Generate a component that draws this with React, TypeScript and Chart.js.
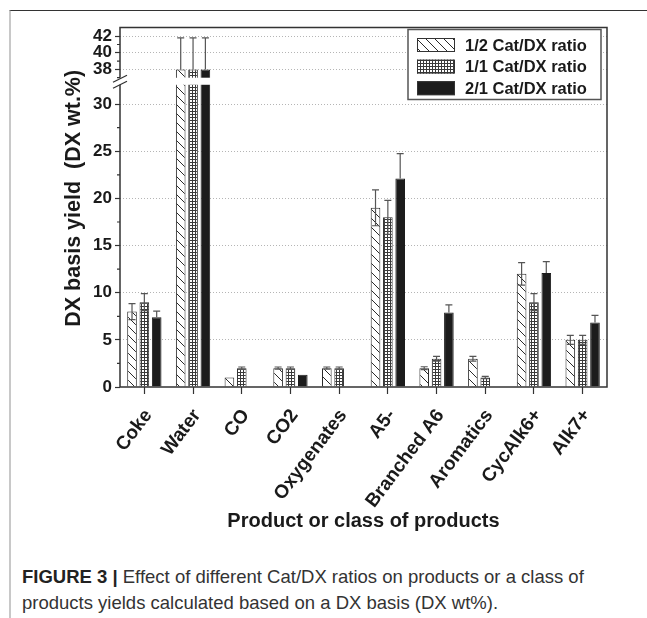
import React, { useEffect, useRef } from "react";
import { Chart, registerables } from "chart.js";

Chart.register(...registerables);

const categories = ["Coke", "Water", "CO", "CO2", "Oxygenates", "A5-", "Branched A6", "Aromatics", "CycAlk6+", "Alk7+"];
const seriesNames = ["1/2 Cat/DX ratio", "1/1 Cat/DX ratio", "2/1 Cat/DX ratio"];
const halfValues = [8.0, 38, 1.0, 2.0, 2.0, 19.0, 2.0, 3.0, 12.0, 5.0];
const halfErrors = [0.85, 3.8, 0, 0.12, 0.12, 1.9, 0.15, 0.25, 1.2, 0.47];
const oneValues = [9.0, 38, 2.0, 2.0, 2.0, 18.0, 3.0, 1.0, 9.0, 5.0];
const oneErrors = [0.9, 3.8, 0.12, 0.12, 0.12, 1.8, 0.25, 0.12, 0.9, 0.47];
const twoValues = [7.4, 38, 0, 1.3, 0, 22.1, 7.9, 0, 12.1, 6.85];
const twoErrors = [0.65, 3.8, 0, 0, 0, 2.65, 0.8, 0, 1.2, 0.75];
const lowerTicks = [0, 5, 10, 15, 20, 25, 30];
const upperTicks = [38, 40, 42];
const lowerMinorTicks = [2.5, 7.5, 12.5, 17.5, 22.5, 27.5];
const upperMinorTicks = [37, 39, 41];

// axis break: lower segment 0..32, upper segment 37..43
const BREAK_LOW = 32;
const BREAK_HIGH = 37;
const UPPER_START = 32.8;
const UPPER_SCALE = 0.88;
const toDisplay = (v: number) => (v <= BREAK_LOW ? v : UPPER_START + (Math.max(v, BREAK_HIGH) - BREAK_HIGH) * UPPER_SCALE);
const Y_MAX = toDisplay(43.05);

const yTickValues = [...lowerTicks, ...upperTicks].map(toDisplay);
const yTickLabels = [...lowerTicks, ...upperTicks].map(String);
const yMinorValues = [...lowerMinorTicks, ...upperMinorTicks].map(toDisplay);

const FONT = "'Liberation Sans', Arial, Helvetica, sans-serif";

function makeHatch(): CanvasPattern | string {
  const c = document.createElement("canvas");
  const s = 9;
  c.width = s;
  c.height = s;
  const g = c.getContext("2d")!;
  g.fillStyle = "#ffffff";
  g.fillRect(0, 0, s, s);
  g.strokeStyle = "#2a2a2a";
  g.lineWidth = 1;
  g.beginPath();
  g.moveTo(-1, -1); g.lineTo(s + 1, s + 1);
  g.moveTo(-1, s - 1); g.lineTo(1, s + 1);
  g.moveTo(s - 1, -1); g.lineTo(s + 1, 1);
  g.stroke();
  return g.createPattern(c, "repeat") || "#fff";
}

function makeGrid(): CanvasPattern | string {
  const c = document.createElement("canvas");
  const s = 3;
  c.width = s;
  c.height = s;
  const g = c.getContext("2d")!;
  g.fillStyle = "#ffffff";
  g.fillRect(0, 0, s, s);
  g.fillStyle = "#3a3a3a";
  g.fillRect(0, 0, s, 1);
  g.fillRect(0, 0, 1, s);
  return g.createPattern(c, "repeat") || "#fff";
}

const rawValues = [halfValues, oneValues, twoValues];
const rawErrors = [halfErrors, oneErrors, twoErrors];

const breakPlugin = {
  id: "breakAndExtras",
  afterDatasetsDraw(chart: any) {
    const { ctx, chartArea } = chart;
    const y = chart.scales.y;
    const { left, right, top, bottom } = chartArea;
    const yBreakTop = y.getPixelForValue(UPPER_START);
    const yBreakBot = y.getPixelForValue(BREAK_LOW + 0.05);
    ctx.save();
    // gap of the break
    ctx.fillStyle = "#ffffff";
    ctx.fillRect(left - 3, yBreakTop, right - left + 2, yBreakBot - yBreakTop);

    // error bars
    ctx.strokeStyle = "#555";
    ctx.lineWidth = 1.2;
    for (let i = 0; i < 3; i++) {
      const meta = chart.getDatasetMeta(i);
      meta.data.forEach((el: any, j: number) => {
        const v = rawValues[i][j];
        const e = rawErrors[i][j];
        if (!e || !v) return;
        const x = el.x;
        const hi = y.getPixelForValue(toDisplay(v + e));
        const broken = v > BREAK_LOW;
        const solid = i === 2;
        const lo = broken || solid ? y.getPixelForValue(toDisplay(v)) : y.getPixelForValue(toDisplay(v - e));
        ctx.beginPath();
        ctx.moveTo(x, hi); ctx.lineTo(x, lo);
        ctx.moveTo(x - 3.5, hi); ctx.lineTo(x + 3.5, hi);
        if (!broken && !solid) { ctx.moveTo(x - 3.5, lo); ctx.lineTo(x + 3.5, lo); }
        ctx.stroke();
      });
    }

    // frame
    ctx.strokeStyle = "#333";
    ctx.lineWidth = 1.5;
    ctx.beginPath();
    ctx.moveTo(left, bottom); ctx.lineTo(left, yBreakBot);
    ctx.moveTo(left, yBreakTop); ctx.lineTo(left, top);
    ctx.lineTo(right, top); ctx.lineTo(right, bottom); ctx.lineTo(left - 0.75, bottom);
    ctx.stroke();

    // break marks
    ctx.lineWidth = 1.3;
    ctx.beginPath();
    const mid = (yBreakTop + yBreakBot) / 2;
    ctx.moveTo(left - 7, mid + 1); ctx.lineTo(left + 7, mid - 6);
    ctx.moveTo(left - 7, mid + 7); ctx.lineTo(left + 7, mid);
    ctx.stroke();

    // minor ticks
    ctx.lineWidth = 1.2;
    ctx.beginPath();
    yMinorValues.forEach((v) => {
      const py = y.getPixelForValue(v);
      ctx.moveTo(left - 3, py); ctx.lineTo(left, py);
    });
    ctx.stroke();

    // legend
    const lx = right - 199;
    const ly = top + 2;
    const lw = 193;
    const lh = 70;
    ctx.fillStyle = "#fff";
    ctx.fillRect(lx, ly, lw, lh);
    ctx.strokeStyle = "#555";
    ctx.lineWidth = 1.5;
    ctx.strokeRect(lx, ly, lw, lh);
    chart.data.datasets.forEach((ds: any, i: number) => {
      const cy = ly + 15.5 + i * 21.6;
      ctx.fillStyle = ds.backgroundColor;
      ctx.fillRect(lx + 9, cy - 7, 38, 14);
      ctx.strokeStyle = "#333";
      ctx.lineWidth = 1;
      ctx.strokeRect(lx + 9.5, cy - 6.5, 37, 13);
      ctx.fillStyle = "#1a1a1a";
      ctx.font = `bold 16.5px ${FONT}`;
      ctx.textAlign = "left";
      ctx.textBaseline = "middle";
      ctx.fillText(ds.label, lx + 57, cy + 1);
    });
    ctx.restore();
  },
};

export default function App() {
  const ref = useRef<HTMLCanvasElement>(null);
  useEffect(() => {
    const canvas = ref.current!;
    const hatch = makeHatch();
    const grid = makeGrid();
    const toData = (arr: number[]) => arr.map((v) => (v ? toDisplay(v) : null));
    const common = { barPercentage: 0.78, categoryPercentage: 0.76, borderWidth: 1, borderSkipped: "start" as const };
    const chart = new Chart(canvas, {
      type: "bar",
      data: {
        labels: categories,
        datasets: [
          { label: seriesNames[0], data: toData(halfValues), backgroundColor: hatch as any, borderColor: "#2a2a2a", ...common },
          { label: seriesNames[1], data: toData(oneValues), backgroundColor: grid as any, borderColor: "#2a2a2a", ...common },
          { label: seriesNames[2], data: toData(twoValues), backgroundColor: "#1c1c1c", borderColor: "#1c1c1c", ...common },
        ],
      },
      options: {
        responsive: false,
        animation: false,
        devicePixelRatio: 1,
        layout: { padding: { left: 61, right: 40, top: 27.5, bottom: 17 } },
        plugins: { legend: { display: false }, tooltip: { enabled: false } },
        scales: {
          x: {
            offset: true,
            grid: { offset: false, drawOnChartArea: false, drawTicks: true, tickLength: 7, tickColor: "#333", tickWidth: 1.2 },
            border: { display: false },
            ticks: {
              autoSkip: false,
              minRotation: 53,
              maxRotation: 53,
              padding: 11,
              labelOffset: 4,
              color: "#1a1a1a",
              font: { family: FONT, size: 19, weight: "bold" },
            },
            title: {
              display: true,
              text: "Product or class of products",
              color: "#1a1a1a",
              padding: { top: 0, bottom: 0 },
              font: { family: FONT, size: 20, weight: "bold" },
            },
            afterFit: (s: any) => { s.height = 146; },
          },
          y: {
            min: 0,
            max: Y_MAX,
            afterBuildTicks: (s: any) => { s.ticks = yTickValues.map((v) => ({ value: v })); },
            grid: {
              color: (c: any) => (c.tick && c.tick.value > 0 ? "#b5b5b5" : "rgba(0,0,0,0)"),
              lineWidth: 1,
              tickColor: "#333",
              tickWidth: 1.2,
              tickLength: 5,
            },
            border: { display: false, dash: [1, 2] },
            ticks: {
              padding: 3,
              color: "#1a1a1a",
              font: { family: FONT, size: 17, weight: "bold" },
              callback: (_v: any, i: number) => yTickLabels[i],
            },
            title: {
              display: true,
              text: "   DX basis yield  (DX wt.%)",
              color: "#1a1a1a",
              padding: { top: 0, bottom: 0 },
              font: { family: FONT, size: 21.5, weight: "bold" },
            },
            afterFit: (s: any) => { s.width = 59; },
          },
        },
      },
      plugins: [breakPlugin],
    });
    return () => chart.destroy();
  }, []);

  return (
    <div style={{ position: "absolute", left: 0, top: 0, width: 647, height: 618, background: "#fff", overflow: "hidden" }}>
      <div style={{ position: "absolute", left: 9, top: 10, width: 638, height: 608, borderLeft: "2px solid #c8c8c8", borderTop: "1px solid #333" }} />
      <canvas ref={ref} width={647} height={550} style={{ position: "absolute", left: 0, top: 0, width: 647, height: 550 }} />
      <div
        style={{
          position: "absolute",
          left: 22,
          top: 564,
          width: 620,
          fontFamily: FONT,
          fontSize: 18.5,
          lineHeight: "26px",
          color: "#333",
          whiteSpace: "nowrap",
        }}
      >
        <b style={{ color: "#222" }}>FIGURE 3 |</b> Effect of different Cat/DX ratios on products or a class of
        <br />
        products yields calculated based on a DX basis (DX wt%).
      </div>
    </div>
  );
}
